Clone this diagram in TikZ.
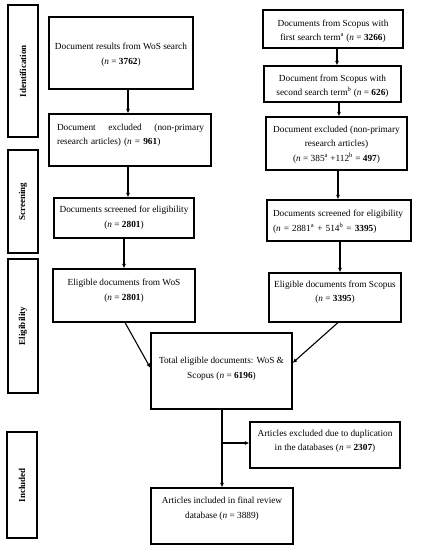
\documentclass[tikz,border=0pt]{standalone}
\usepackage{fontspec}
\setmainfont{Liberation Serif}
\usetikzlibrary{arrows.meta}
\begin{document}
\begin{tikzpicture}[x=1pt,y=-1pt,
  box/.style={draw=black, line width=1.1pt, rectangle, inner sep=0pt},
  bar/.style={draw=black, line width=1.1pt, rectangle, inner sep=0pt, minimum width=30pt},
  barlbl/.style={rotate=90, font=\fontsize{9}{10}\selectfont\bfseries, inner sep=0pt},
  txt/.style={align=center, font=\fontsize{9.3}{14.5}\selectfont, inner sep=0pt},
  ltxt/.style={align=left, font=\fontsize{9.3}{14.5}\selectfont, inner sep=0pt},
  arr/.style={line width=1.1pt, -{Latex[length=4.5pt,width=4pt]}}
]
\useasboundingbox (0,0) rectangle (422,550);
% stage bars
\node[bar, minimum height=132pt] (idbar) at (23,71) {};
\node[barlbl] (idlbl) at (idbar.center) {Identification};
\node[bar, minimum height=103pt] (scbar) at (23,201.5) {};
\node[barlbl] (sclbl) at (scbar.center) {Screening};
\node[bar, minimum height=134pt] (elbar) at (23,326) {};
\node[barlbl] (ellbl) at (elbar.center) {Eligibility};
\node[bar, minimum height=106pt] (inbar) at (22,485) {};
\node[barlbl] (inlbl) at (inbar.center) {Included};
% left column
\node[box, minimum width=144pt, minimum height=72pt] (wos) at (121,53) {};
\node[txt] (wosT) at (121,54.5) {Document results from WoS search\\(\textit{n} = \textbf{3762})};
\node[box, minimum width=162pt, minimum height=52pt] (exL) at (130,140) {};
\node[ltxt, text width=147pt] (exLT) at (130.5,135.5) {Document\hfill excluded\hfill (non-primary\\research articles) (\textit{n} = \textbf{961})};
\node[box, minimum width=140pt, minimum height=40pt] (scL) at (124,218) {};
\node[txt] (scLT) at (124,217.5) {Documents screened for eligibility\\(\textit{n} = \textbf{2801})};
\node[box, minimum width=142pt, minimum height=53pt] (elL) at (124,295.5) {};
\node[txt] (elLT) at (124,290.5) {Eligible documents from WoS\\(\textit{n} = \textbf{2801})};
% right column
\node[box, minimum width=140pt, minimum height=38pt] (sc1) at (333,29) {};
\node[txt] (sc1T) at (333,31) {Documents from Scopus with\\first search term\textsuperscript{a} (\textit{n} = \textbf{3266})};
\node[box, minimum width=137pt, minimum height=36pt] (sc2) at (332.5,84) {};
\node[txt] (sc2T) at (332.5,86) {Document from Scopus with\\second search term\textsuperscript{b} (\textit{n} = \textbf{626})};
\node[box, minimum width=141pt, minimum height=53pt] (exR) at (336.5,143.5) {};
\node[txt] (exRT) at (336.5,144.5) {Document excluded (non-primary\\research articles)\\(\textit{n} = 385\textsuperscript{a} +112\textsuperscript{b} = \textbf{497})};
\node[box, minimum width=144pt, minimum height=41pt] (scR) at (339,220.5) {};
\node[ltxt, text width=130pt] (scRT) at (338,221.5) {Documents\hfill screened\hfill for\hfill eligibility\\(\textit{n} = 2881\textsuperscript{a} + 514\textsuperscript{b} = \textbf{3395})};
\node[box, minimum width=132pt, minimum height=49pt] (elR) at (335,297.5) {};
\node[txt] (elRT) at (335,292) {Eligible documents from Scopus\\(\textit{n} = \textbf{3395})};
% merge
\node[box, minimum width=141pt, minimum height=76pt] (tot) at (221.5,371) {};
\node[txt] (totT) at (221.5,369) {Total eligible documents: WoS \&\\Scopus (\textit{n} = \textbf{6196})};
\node[box, minimum width=150pt, minimum height=46pt] (dup) at (325,445) {};
\node[txt] (dupT) at (325,441.5) {Articles excluded due to duplication\\in the databases (\textit{n} = \textbf{2307})};
\node[box, minimum width=142pt, minimum height=56pt] (fin) at (222,516) {};
\node[txt] (finT) at (222,508.5) {Articles included in final review\\database (\textit{n} = 3889)};
% arrows
\draw[arr] (wos.south -| 128,0) -- (exL.north -| 128,0);
\draw[arr] (exL.south -| 128,0) -- (scL.north -| 128,0);
\draw[arr] (scL.south -| 124,0) -- (elL.north -| 124,0);
\draw[arr] (elL.south -| 125,0) -- (tot.west |- 0,368);
\draw[arr] (sc1.south -| 337,0) -- (sc2.north -| 337,0);
\draw[arr] (sc2.south -| 339,0) -- (exR.north -| 339,0);
\draw[arr] (exR.south -| 338,0) -- (scR.north -| 338,0);
\draw[arr] (scR.south -| 340,0) -- (elR.north -| 340,0);
\draw[arr] (elR.south -| 338,0) -- (tot.east |- 0,363);
\draw[arr] (tot.south -| 222,0) -- (fin.north -| 222,0);
\coordinate (br) at (222,443);
\draw[arr] (br) -- (dup.west |- br);
\end{tikzpicture}
\end{document}
